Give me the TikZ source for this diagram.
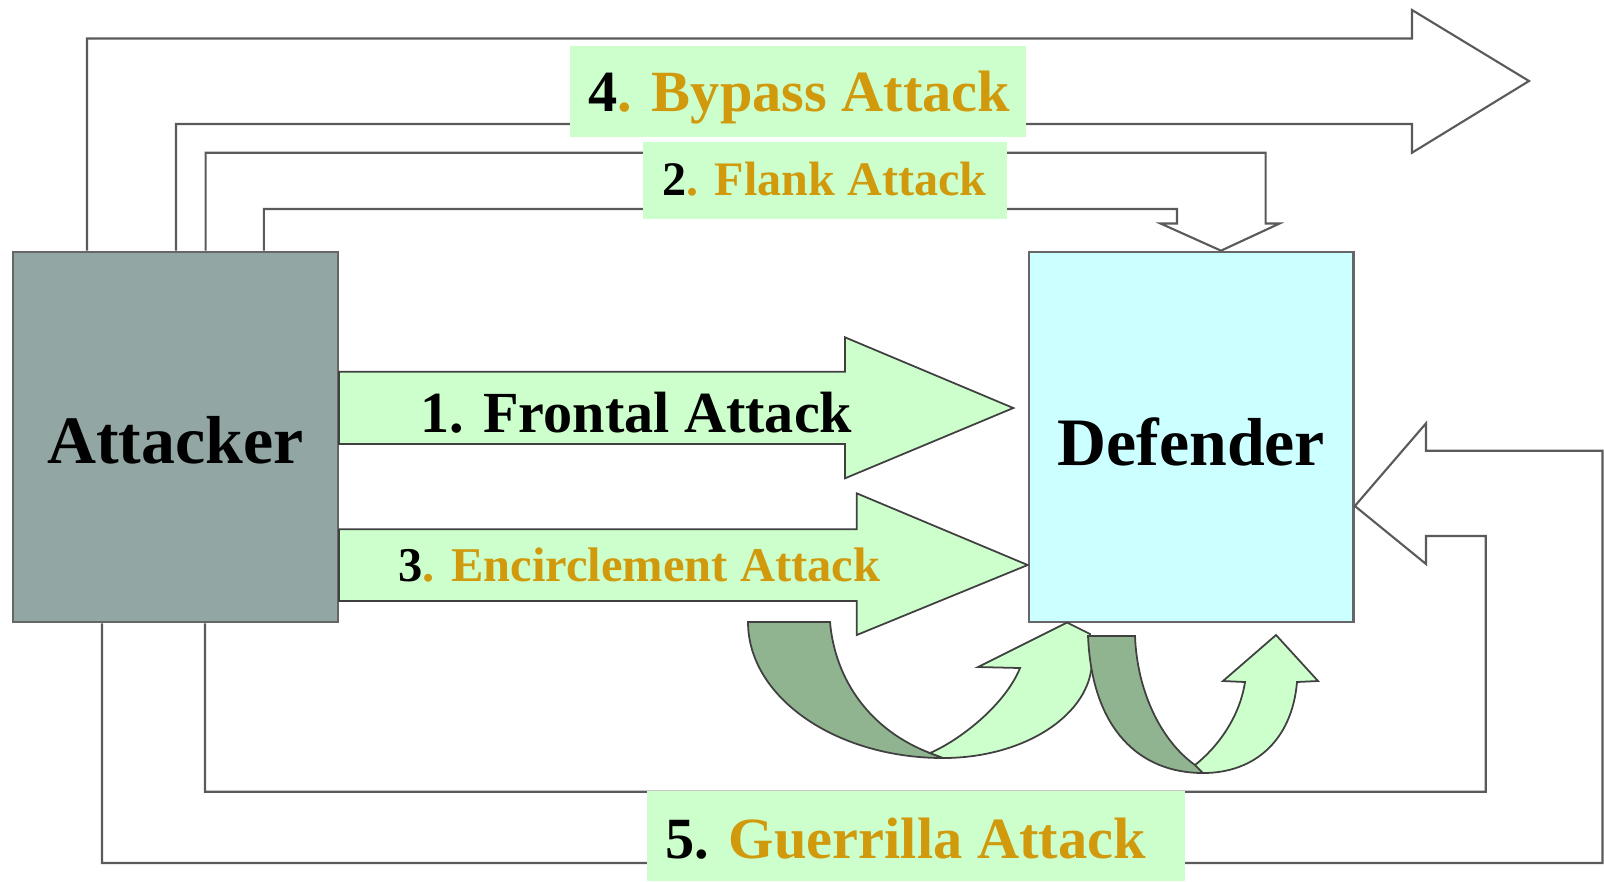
\documentclass[tikz,border=0pt]{standalone}
\usepackage{fontspec}
\setmainfont{Liberation Serif}
\definecolor{attfill}{RGB}{146,166,164}
\definecolor{deffill}{RGB}{204,255,255}
\definecolor{lgreen}{RGB}{204,255,204}
\definecolor{dgreen}{RGB}{143,180,143}
\definecolor{goldtxt}{RGB}{209,153,12}
\definecolor{lineg}{RGB}{90,90,90}
\begin{document}
\begin{tikzpicture}[x=0.01cm,y=-0.01cm,
  conn/.style={draw=lineg, line width=0.6pt, line join=miter},
  blockfill/.style={fill=lgreen, draw=black!75, line width=0.5pt, line join=miter},
  darkband/.style={fill=dgreen, draw=black!75, line width=0.5pt, line join=miter},
  lblbox/.style={fill=lgreen, draw=none, inner sep=0pt},
  lbltext/.style={anchor=base west, inner sep=0pt},
  mainbox/.style={draw=black!60, line width=0.7pt, inner sep=0pt,
    minimum width=3.245cm, minimum height=3.70cm, text depth=0pt,
    font=\fontsize{19.3pt}{23pt}\selectfont\bfseries}]
\useasboundingbox (0,0) rectangle (1604,881);

% main boxes
\node[mainbox, fill=attfill, text height=0.52cm] (att) at (175.5,437) {Attacker};
\node[mainbox, fill=deffill, text height=0.56cm] (def) at (1191.25,437) {Defender};

% 4. bypass (outline arrow)
\draw[conn] (att.north -| 87,0) -- (87,38.5) -- (1412,38.5) -- (1412,10) -- (1529,81)
  -- (1412,152.7) -- (1412,124) -- (176,124) -- (att.north -| 176,0);
% 2. flank (outline arrow)
\draw[conn] (att.north -| 205.6,0) -- (205.6,152.7) -- (1265.6,152.7) -- (1265.6,223.5)
  -- (1279.5,223.5) -- (def.north -| 1221,0) -- (1160.5,223.5) -- (1177,223.5)
  -- (1177,209) -- (263.8,209) -- (att.north -| 263.8,0);
% 5. guerrilla (outline arrow)
\draw[conn] (att.south -| 102,0) -- (102,863) -- (1602.5,863) -- (1602.5,450.7)
  -- (1426,450.7) -- (1426,423.3) -- (def.east |- 0,506) -- (1426,564) -- (1426,536)
  -- (1485.7,536) -- (1485.7,791.7) -- (205,791.7) -- (att.south -| 205,0);

% label boxes
\node[lblbox, minimum width=4.56cm, minimum height=0.91cm] (bpbox) at (798,91.5) {};
\node[lblbox, minimum width=3.64cm, minimum height=0.77cm] (flbox) at (825,180.5) {};
\node[lblbox, minimum width=5.38cm, minimum height=0.90cm] (gubox) at (916,836) {};

\node[lbltext, font=\fontsize{16.6pt}{20pt}\selectfont\bfseries] (bptext) at (588,111)
  {4\textcolor{goldtxt}{. Bypass Attack}};
\node[lbltext, font=\fontsize{13.7pt}{16pt}\selectfont\bfseries] (fltext) at (662,195)
  {2\textcolor{goldtxt}{. Flank Attack}};
\node[lbltext, font=\fontsize{16.6pt}{20pt}\selectfont\bfseries] (gutext) at (665,858)
  {5. \textcolor{goldtxt}{Guerrilla Attack}};

% 1. frontal block arrow
\draw[blockfill] (att.east |- 0,371.7) -- (845,371.7) -- (845,337.3) -- (1013.3,408)
  -- (845,478.3) -- (845,444) -- (att.east |- 0,444) -- cycle;
\node[lbltext, font=\fontsize{16.55pt}{20pt}\selectfont\bfseries] (frtext) at (419.4,432)
  {1. Frontal Attack};

% 3. encirclement block arrow
\draw[blockfill] (att.east |- 0,529.3) -- (856.7,529.3) -- (856.7,493.3) -- (def.west |- 0,565)
  -- (856.7,635) -- (856.7,601) -- (att.east |- 0,601) -- cycle;
\node[lbltext, font=\fontsize{13.8pt}{16pt}\selectfont\bfseries] (entext) at (398,581)
  {3\textcolor{goldtxt}{. Encirclement Attack}};

% curved arrow 1
\draw[darkband] (748,622) -- (830,622) .. controls (835,680) and (870,730) .. (930,753)
  -- (943,758) .. controls (835.3,758) and (748,697) .. (748,622) -- cycle;
\draw[blockfill] (930,753) .. controls (960,740) and (1005,705) .. (1020,668) -- (978,667)
  -- (1067,622.5) -- (1090,634) -- (1092,660) .. controls (1092,714) and (1025,758) .. (943,758) -- cycle;

% curved arrow 2
\draw[darkband] (1088,636) -- (1135,636) .. controls (1137,690) and (1160,740) .. (1195,765)
  -- (1203,773) .. controls (1140,773) and (1092,730) .. (1088,636) -- cycle;
\draw[blockfill] (1195,765) .. controls (1220,745) and (1240,715) .. (1245,682) -- (1223,681)
  -- (1276,635) -- (1318,681) -- (1297,682) .. controls (1292,740) and (1255,773) .. (1203,773) -- cycle;
\end{tikzpicture}
\end{document}
